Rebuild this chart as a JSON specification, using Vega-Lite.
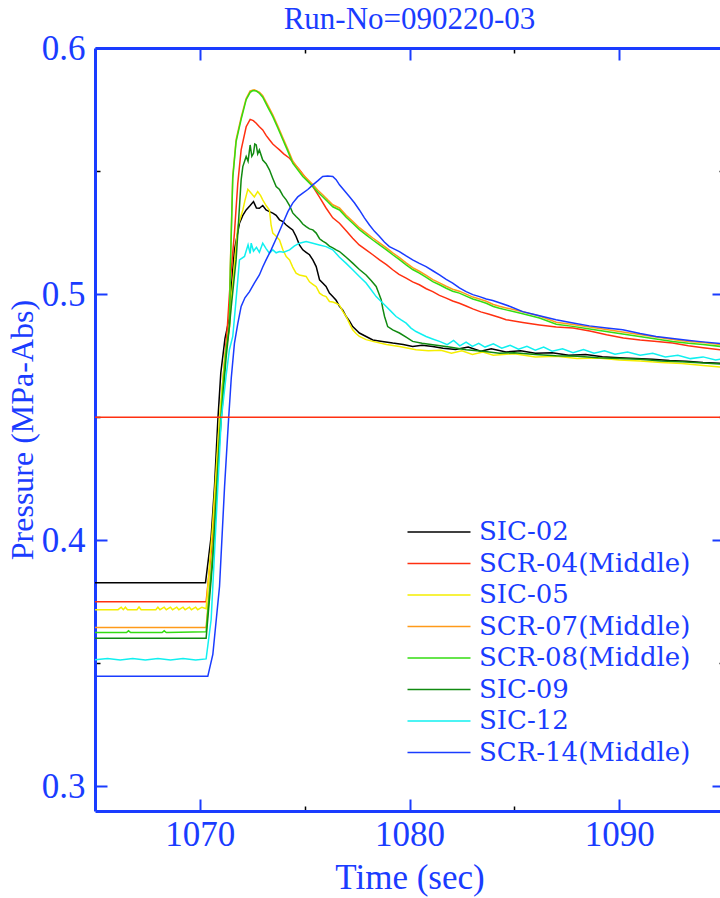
{
"$schema":"https://vega.github.io/schema/vega-lite/v6.json",
"width":629,"height":763,
"autosize":{"type":"none"},
"padding":{"left":95,"top":48,"right":0,"bottom":87},
"background":"white",
"title":{"text":"Run-No=090220-03","font":"Liberation Serif","fontSize":31,"fontWeight":"normal","color":"#1a3cff","anchor":"middle","offset":-5},
"config":{"view":{"stroke":null},"axis":{"grid":false}},
"resolve":{"axis":{"x":"independent","y":"independent"}},
"datasets":{"series":[
{"s":"SIC-02","t":1065,"p":0.3827},{"s":"SIC-02","t":1070.27,"p":0.3827},{"s":"SIC-02","t":1070.54,"p":0.4016},{"s":"SIC-02","t":1070.7,"p":0.4219},{"s":"SIC-02","t":1070.86,"p":0.449},{"s":"SIC-02","t":1071.0,"p":0.468},{"s":"SIC-02","t":1071.2,"p":0.482},{"s":"SIC-02","t":1071.4,"p":0.49},{"s":"SIC-02","t":1071.55,"p":0.508},{"s":"SIC-02","t":1071.65,"p":0.518},{"s":"SIC-02","t":1071.89,"p":0.5288},{"s":"SIC-02","t":1072.05,"p":0.532},{"s":"SIC-02","t":1072.21,"p":0.5342},{"s":"SIC-02","t":1072.4,"p":0.536},{"s":"SIC-02","t":1072.56,"p":0.5376},{"s":"SIC-02","t":1072.7,"p":0.535},{"s":"SIC-02","t":1072.84,"p":0.5349},{"s":"SIC-02","t":1073.0,"p":0.536},{"s":"SIC-02","t":1073.16,"p":0.5342},{"s":"SIC-02","t":1073.32,"p":0.5335},{"s":"SIC-02","t":1073.48,"p":0.5329},{"s":"SIC-02","t":1073.64,"p":0.532},{"s":"SIC-02","t":1073.8,"p":0.5302},{"s":"SIC-02","t":1073.96,"p":0.5295},{"s":"SIC-02","t":1074.12,"p":0.5281},{"s":"SIC-02","t":1074.28,"p":0.527},{"s":"SIC-02","t":1074.43,"p":0.5261},{"s":"SIC-02","t":1074.59,"p":0.5234},{"s":"SIC-02","t":1074.75,"p":0.52},{"s":"SIC-02","t":1074.91,"p":0.518},{"s":"SIC-02","t":1075.07,"p":0.517},{"s":"SIC-02","t":1075.23,"p":0.516},{"s":"SIC-02","t":1075.39,"p":0.5139},{"s":"SIC-02","t":1075.55,"p":0.5112},{"s":"SIC-02","t":1075.71,"p":0.5058},{"s":"SIC-02","t":1075.86,"p":0.5045},{"s":"SIC-02","t":1076.02,"p":0.5031},{"s":"SIC-02","t":1076.18,"p":0.5004},{"s":"SIC-02","t":1076.34,"p":0.499},{"s":"SIC-02","t":1076.5,"p":0.4975},{"s":"SIC-02","t":1076.66,"p":0.495},{"s":"SIC-02","t":1076.82,"p":0.4935},{"s":"SIC-02","t":1076.98,"p":0.4909},{"s":"SIC-02","t":1077.14,"p":0.489},{"s":"SIC-02","t":1077.29,"p":0.4868},{"s":"SIC-02","t":1077.45,"p":0.4855},{"s":"SIC-02","t":1077.61,"p":0.4842},{"s":"SIC-02","t":1077.93,"p":0.4828},{"s":"SIC-02","t":1078.25,"p":0.4814},{"s":"SIC-02","t":1078.7,"p":0.4808},{"s":"SIC-02","t":1079.2,"p":0.4801},{"s":"SIC-02","t":1079.7,"p":0.4795},{"s":"SIC-02","t":1080.15,"p":0.4787},{"s":"SIC-02","t":1080.6,"p":0.4792},{"s":"SIC-02","t":1081.11,"p":0.4787},{"s":"SIC-02","t":1081.6,"p":0.478},{"s":"SIC-02","t":1082.2,"p":0.4775},{"s":"SIC-02","t":1082.8,"p":0.4785},{"s":"SIC-02","t":1083.4,"p":0.4768},{"s":"SIC-02","t":1083.9,"p":0.4778},{"s":"SIC-02","t":1084.6,"p":0.4765},{"s":"SIC-02","t":1085.3,"p":0.477},{"s":"SIC-02","t":1086.0,"p":0.476},{"s":"SIC-02","t":1086.8,"p":0.4762},{"s":"SIC-02","t":1087.6,"p":0.4752},{"s":"SIC-02","t":1088.4,"p":0.4755},{"s":"SIC-02","t":1089.2,"p":0.4746},{"s":"SIC-02","t":1090.0,"p":0.4742},{"s":"SIC-02","t":1090.8,"p":0.4738},{"s":"SIC-02","t":1091.6,"p":0.4735},{"s":"SIC-02","t":1092.4,"p":0.473},{"s":"SIC-02","t":1093.2,"p":0.4727},{"s":"SIC-02","t":1094.0,"p":0.4722},{"s":"SIC-02","t":1095,"p":0.4718},

{"s":"SCR-04(Middle)","t":1065,"p":0.375},{"s":"SCR-04(Middle)","t":1070.3,"p":0.375},{"s":"SCR-04(Middle)","t":1070.6,"p":0.4},{"s":"SCR-04(Middle)","t":1070.86,"p":0.4354},{"s":"SCR-04(Middle)","t":1071.1,"p":0.465},{"s":"SCR-04(Middle)","t":1071.3,"p":0.485},{"s":"SCR-04(Middle)","t":1071.45,"p":0.505},{"s":"SCR-04(Middle)","t":1071.65,"p":0.5248},{"s":"SCR-04(Middle)","t":1071.81,"p":0.545},{"s":"SCR-04(Middle)","t":1071.97,"p":0.5586},{"s":"SCR-04(Middle)","t":1072.21,"p":0.568},{"s":"SCR-04(Middle)","t":1072.4,"p":0.571},{"s":"SCR-04(Middle)","t":1072.55,"p":0.5705},{"s":"SCR-04(Middle)","t":1072.69,"p":0.5694},{"s":"SCR-04(Middle)","t":1072.84,"p":0.568},{"s":"SCR-04(Middle)","t":1073.0,"p":0.5667},{"s":"SCR-04(Middle)","t":1073.16,"p":0.5645},{"s":"SCR-04(Middle)","t":1073.32,"p":0.5627},{"s":"SCR-04(Middle)","t":1073.48,"p":0.561},{"s":"SCR-04(Middle)","t":1073.64,"p":0.5598},{"s":"SCR-04(Middle)","t":1073.8,"p":0.5586},{"s":"SCR-04(Middle)","t":1074.0,"p":0.557},{"s":"SCR-04(Middle)","t":1074.28,"p":0.5552},{"s":"SCR-04(Middle)","t":1074.5,"p":0.553},{"s":"SCR-04(Middle)","t":1074.75,"p":0.5505},{"s":"SCR-04(Middle)","t":1075.07,"p":0.547},{"s":"SCR-04(Middle)","t":1075.39,"p":0.5437},{"s":"SCR-04(Middle)","t":1075.7,"p":0.5395},{"s":"SCR-04(Middle)","t":1076.02,"p":0.535},{"s":"SCR-04(Middle)","t":1076.34,"p":0.531},{"s":"SCR-04(Middle)","t":1076.66,"p":0.5288},{"s":"SCR-04(Middle)","t":1077.0,"p":0.5255},{"s":"SCR-04(Middle)","t":1077.29,"p":0.5227},{"s":"SCR-04(Middle)","t":1077.6,"p":0.52},{"s":"SCR-04(Middle)","t":1077.93,"p":0.518},{"s":"SCR-04(Middle)","t":1078.25,"p":0.516},{"s":"SCR-04(Middle)","t":1078.57,"p":0.5139},{"s":"SCR-04(Middle)","t":1078.9,"p":0.512},{"s":"SCR-04(Middle)","t":1079.2,"p":0.5099},{"s":"SCR-04(Middle)","t":1079.5,"p":0.508},{"s":"SCR-04(Middle)","t":1079.84,"p":0.5065},{"s":"SCR-04(Middle)","t":1080.15,"p":0.505},{"s":"SCR-04(Middle)","t":1080.47,"p":0.5038},{"s":"SCR-04(Middle)","t":1080.8,"p":0.5022},{"s":"SCR-04(Middle)","t":1081.11,"p":0.501},{"s":"SCR-04(Middle)","t":1081.43,"p":0.4995},{"s":"SCR-04(Middle)","t":1081.75,"p":0.4984},{"s":"SCR-04(Middle)","t":1082.06,"p":0.4972},{"s":"SCR-04(Middle)","t":1082.38,"p":0.4963},{"s":"SCR-04(Middle)","t":1082.7,"p":0.4952},{"s":"SCR-04(Middle)","t":1083.02,"p":0.494},{"s":"SCR-04(Middle)","t":1083.4,"p":0.4928},{"s":"SCR-04(Middle)","t":1083.8,"p":0.4918},{"s":"SCR-04(Middle)","t":1084.3,"p":0.4905},{"s":"SCR-04(Middle)","t":1084.61,"p":0.4896},{"s":"SCR-04(Middle)","t":1085.4,"p":0.4885},{"s":"SCR-04(Middle)","t":1086.2,"p":0.4875},{"s":"SCR-04(Middle)","t":1087.0,"p":0.4866},{"s":"SCR-04(Middle)","t":1087.8,"p":0.4862},{"s":"SCR-04(Middle)","t":1088.6,"p":0.485},{"s":"SCR-04(Middle)","t":1089.4,"p":0.4835},{"s":"SCR-04(Middle)","t":1090.2,"p":0.4822},{"s":"SCR-04(Middle)","t":1091.0,"p":0.4814},{"s":"SCR-04(Middle)","t":1091.8,"p":0.4808},{"s":"SCR-04(Middle)","t":1092.55,"p":0.4801},{"s":"SCR-04(Middle)","t":1093.3,"p":0.479},{"s":"SCR-04(Middle)","t":1094.0,"p":0.4782},{"s":"SCR-04(Middle)","t":1095,"p":0.4772},

{"s":"SIC-05","t":1065,"p":0.3718},{"s":"SIC-05","t":1066.1,"p":0.3718},{"s":"SIC-05","t":1066.25,"p":0.3728},{"s":"SIC-05","t":1066.35,"p":0.3718},{"s":"SIC-05","t":1066.45,"p":0.3728},{"s":"SIC-05","t":1066.55,"p":0.3718},{"s":"SIC-05","t":1067.0,"p":0.3718},{"s":"SIC-05","t":1067.1,"p":0.3729},{"s":"SIC-05","t":1067.2,"p":0.3718},{"s":"SIC-05","t":1067.9,"p":0.3718},{"s":"SIC-05","t":1068.0,"p":0.3728},{"s":"SIC-05","t":1068.1,"p":0.3718},{"s":"SIC-05","t":1068.3,"p":0.3728},{"s":"SIC-05","t":1068.4,"p":0.3718},{"s":"SIC-05","t":1068.6,"p":0.3728},{"s":"SIC-05","t":1068.7,"p":0.3718},{"s":"SIC-05","t":1068.9,"p":0.3728},{"s":"SIC-05","t":1069.0,"p":0.3718},{"s":"SIC-05","t":1069.2,"p":0.3728},{"s":"SIC-05","t":1069.3,"p":0.3718},{"s":"SIC-05","t":1069.5,"p":0.3728},{"s":"SIC-05","t":1069.6,"p":0.3718},{"s":"SIC-05","t":1069.8,"p":0.3728},{"s":"SIC-05","t":1069.9,"p":0.3718},{"s":"SIC-05","t":1070.1,"p":0.3728},{"s":"SIC-05","t":1070.3,"p":0.3722},{"s":"SIC-05","t":1070.6,"p":0.405},{"s":"SIC-05","t":1070.94,"p":0.45},{"s":"SIC-05","t":1071.2,"p":0.475},{"s":"SIC-05","t":1071.41,"p":0.4863},{"s":"SIC-05","t":1071.5,"p":0.498},{"s":"SIC-05","t":1071.65,"p":0.512},{"s":"SIC-05","t":1071.81,"p":0.5274},{"s":"SIC-05","t":1072.05,"p":0.5342},{"s":"SIC-05","t":1072.15,"p":0.538},{"s":"SIC-05","t":1072.29,"p":0.5426},{"s":"SIC-05","t":1072.45,"p":0.541},{"s":"SIC-05","t":1072.6,"p":0.5395},{"s":"SIC-05","t":1072.76,"p":0.5417},{"s":"SIC-05","t":1072.9,"p":0.54},{"s":"SIC-05","t":1073.0,"p":0.5383},{"s":"SIC-05","t":1073.16,"p":0.536},{"s":"SIC-05","t":1073.32,"p":0.5342},{"s":"SIC-05","t":1073.4,"p":0.528},{"s":"SIC-05","t":1073.48,"p":0.5248},{"s":"SIC-05","t":1073.64,"p":0.5235},{"s":"SIC-05","t":1073.8,"p":0.522},{"s":"SIC-05","t":1073.96,"p":0.518},{"s":"SIC-05","t":1074.12,"p":0.5153},{"s":"SIC-05","t":1074.28,"p":0.5139},{"s":"SIC-05","t":1074.43,"p":0.511},{"s":"SIC-05","t":1074.59,"p":0.5085},{"s":"SIC-05","t":1074.75,"p":0.5078},{"s":"SIC-05","t":1075.07,"p":0.5072},{"s":"SIC-05","t":1075.23,"p":0.505},{"s":"SIC-05","t":1075.39,"p":0.504},{"s":"SIC-05","t":1075.55,"p":0.503},{"s":"SIC-05","t":1075.71,"p":0.5004},{"s":"SIC-05","t":1075.86,"p":0.4995},{"s":"SIC-05","t":1076.02,"p":0.499},{"s":"SIC-05","t":1076.18,"p":0.497},{"s":"SIC-05","t":1076.34,"p":0.4968},{"s":"SIC-05","t":1076.5,"p":0.4963},{"s":"SIC-05","t":1076.66,"p":0.4955},{"s":"SIC-05","t":1076.82,"p":0.493},{"s":"SIC-05","t":1076.98,"p":0.4909},{"s":"SIC-05","t":1077.14,"p":0.488},{"s":"SIC-05","t":1077.29,"p":0.4855},{"s":"SIC-05","t":1077.45,"p":0.484},{"s":"SIC-05","t":1077.61,"p":0.4828},{"s":"SIC-05","t":1077.93,"p":0.4815},{"s":"SIC-05","t":1078.25,"p":0.4808},{"s":"SIC-05","t":1078.9,"p":0.4795},{"s":"SIC-05","t":1079.52,"p":0.4787},{"s":"SIC-05","t":1080.31,"p":0.4774},{"s":"SIC-05","t":1080.9,"p":0.477},{"s":"SIC-05","t":1081.5,"p":0.4772},{"s":"SIC-05","t":1082.0,"p":0.476},{"s":"SIC-05","t":1082.5,"p":0.477},{"s":"SIC-05","t":1083.0,"p":0.4755},{"s":"SIC-05","t":1083.5,"p":0.4765},{"s":"SIC-05","t":1084.0,"p":0.4752},{"s":"SIC-05","t":1085.0,"p":0.4758},{"s":"SIC-05","t":1086.0,"p":0.4745},{"s":"SIC-05","t":1087.0,"p":0.4748},{"s":"SIC-05","t":1088.0,"p":0.4738},{"s":"SIC-05","t":1089.0,"p":0.474},{"s":"SIC-05","t":1090.0,"p":0.4732},{"s":"SIC-05","t":1091.0,"p":0.4728},{"s":"SIC-05","t":1092.0,"p":0.4722},{"s":"SIC-05","t":1093.0,"p":0.4718},{"s":"SIC-05","t":1094.0,"p":0.471},{"s":"SIC-05","t":1095,"p":0.4703},

{"s":"SCR-07(Middle)","t":1065,"p":0.3646},{"s":"SCR-07(Middle)","t":1070.3,"p":0.3646},{"s":"SCR-07(Middle)","t":1070.62,"p":0.396},{"s":"SCR-07(Middle)","t":1070.94,"p":0.443},{"s":"SCR-07(Middle)","t":1071.25,"p":0.478},{"s":"SCR-07(Middle)","t":1071.41,"p":0.488},{"s":"SCR-07(Middle)","t":1071.45,"p":0.51},{"s":"SCR-07(Middle)","t":1071.57,"p":0.548},{"s":"SCR-07(Middle)","t":1071.73,"p":0.5628},{"s":"SCR-07(Middle)","t":1071.97,"p":0.5718},{"s":"SCR-07(Middle)","t":1072.21,"p":0.5795},{"s":"SCR-07(Middle)","t":1072.4,"p":0.5826},{"s":"SCR-07(Middle)","t":1072.6,"p":0.583},{"s":"SCR-07(Middle)","t":1072.85,"p":0.582},{"s":"SCR-07(Middle)","t":1073.0,"p":0.5806},{"s":"SCR-07(Middle)","t":1073.24,"p":0.5768},{"s":"SCR-07(Middle)","t":1073.48,"p":0.5728},{"s":"SCR-07(Middle)","t":1073.72,"p":0.5683},{"s":"SCR-07(Middle)","t":1073.96,"p":0.5635},{"s":"SCR-07(Middle)","t":1074.2,"p":0.5588},{"s":"SCR-07(Middle)","t":1074.43,"p":0.5541},{"s":"SCR-07(Middle)","t":1074.67,"p":0.5513},{"s":"SCR-07(Middle)","t":1074.91,"p":0.5486},{"s":"SCR-07(Middle)","t":1075.15,"p":0.5466},{"s":"SCR-07(Middle)","t":1075.39,"p":0.5445},{"s":"SCR-07(Middle)","t":1075.62,"p":0.5423},{"s":"SCR-07(Middle)","t":1075.86,"p":0.5404},{"s":"SCR-07(Middle)","t":1076.1,"p":0.5383},{"s":"SCR-07(Middle)","t":1076.34,"p":0.5363},{"s":"SCR-07(Middle)","t":1076.66,"p":0.535},{"s":"SCR-07(Middle)","t":1076.98,"p":0.532},{"s":"SCR-07(Middle)","t":1077.29,"p":0.5296},{"s":"SCR-07(Middle)","t":1077.61,"p":0.527},{"s":"SCR-07(Middle)","t":1077.93,"p":0.5249},{"s":"SCR-07(Middle)","t":1078.25,"p":0.5228},{"s":"SCR-07(Middle)","t":1078.57,"p":0.5208},{"s":"SCR-07(Middle)","t":1078.9,"p":0.5188},{"s":"SCR-07(Middle)","t":1079.2,"p":0.5168},{"s":"SCR-07(Middle)","t":1079.52,"p":0.5148},{"s":"SCR-07(Middle)","t":1079.84,"p":0.5127},{"s":"SCR-07(Middle)","t":1080.15,"p":0.5108},{"s":"SCR-07(Middle)","t":1080.47,"p":0.5093},{"s":"SCR-07(Middle)","t":1080.8,"p":0.5076},{"s":"SCR-07(Middle)","t":1081.11,"p":0.5059},{"s":"SCR-07(Middle)","t":1081.43,"p":0.5046},{"s":"SCR-07(Middle)","t":1081.75,"p":0.5032},{"s":"SCR-07(Middle)","t":1082.06,"p":0.502},{"s":"SCR-07(Middle)","t":1082.38,"p":0.5012},{"s":"SCR-07(Middle)","t":1082.7,"p":0.5},{"s":"SCR-07(Middle)","t":1083.02,"p":0.4988},{"s":"SCR-07(Middle)","t":1083.34,"p":0.498},{"s":"SCR-07(Middle)","t":1083.66,"p":0.4971},{"s":"SCR-07(Middle)","t":1084.0,"p":0.4958},{"s":"SCR-07(Middle)","t":1084.29,"p":0.4951},{"s":"SCR-07(Middle)","t":1084.61,"p":0.4944},{"s":"SCR-07(Middle)","t":1085.4,"p":0.4928},{"s":"SCR-07(Middle)","t":1086.2,"p":0.4911},{"s":"SCR-07(Middle)","t":1087.0,"p":0.4886},{"s":"SCR-07(Middle)","t":1087.79,"p":0.4877},{"s":"SCR-07(Middle)","t":1088.6,"p":0.4866},{"s":"SCR-07(Middle)","t":1089.38,"p":0.4856},{"s":"SCR-07(Middle)","t":1090.17,"p":0.4846},{"s":"SCR-07(Middle)","t":1090.97,"p":0.4836},{"s":"SCR-07(Middle)","t":1091.76,"p":0.4826},{"s":"SCR-07(Middle)","t":1092.55,"p":0.4816},{"s":"SCR-07(Middle)","t":1093.3,"p":0.4808},{"s":"SCR-07(Middle)","t":1094.0,"p":0.4803},{"s":"SCR-07(Middle)","t":1095,"p":0.4794},

{"s":"SCR-08(Middle)","t":1065,"p":0.3625},{"s":"SCR-08(Middle)","t":1066.5,"p":0.3625},{"s":"SCR-08(Middle)","t":1066.6,"p":0.3632},{"s":"SCR-08(Middle)","t":1066.7,"p":0.3625},{"s":"SCR-08(Middle)","t":1068.2,"p":0.3625},{"s":"SCR-08(Middle)","t":1068.3,"p":0.3632},{"s":"SCR-08(Middle)","t":1068.4,"p":0.3625},{"s":"SCR-08(Middle)","t":1070.3,"p":0.3628},{"s":"SCR-08(Middle)","t":1070.62,"p":0.3948},{"s":"SCR-08(Middle)","t":1070.94,"p":0.4422},{"s":"SCR-08(Middle)","t":1071.1,"p":0.462},{"s":"SCR-08(Middle)","t":1071.25,"p":0.477},{"s":"SCR-08(Middle)","t":1071.41,"p":0.4868},{"s":"SCR-08(Middle)","t":1071.45,"p":0.5087},{"s":"SCR-08(Middle)","t":1071.57,"p":0.547},{"s":"SCR-08(Middle)","t":1071.73,"p":0.562},{"s":"SCR-08(Middle)","t":1071.97,"p":0.571},{"s":"SCR-08(Middle)","t":1072.21,"p":0.579},{"s":"SCR-08(Middle)","t":1072.4,"p":0.582},{"s":"SCR-08(Middle)","t":1072.53,"p":0.5827},{"s":"SCR-08(Middle)","t":1072.7,"p":0.5825},{"s":"SCR-08(Middle)","t":1072.85,"p":0.5815},{"s":"SCR-08(Middle)","t":1073.0,"p":0.58},{"s":"SCR-08(Middle)","t":1073.24,"p":0.576},{"s":"SCR-08(Middle)","t":1073.48,"p":0.5721},{"s":"SCR-08(Middle)","t":1073.72,"p":0.5675},{"s":"SCR-08(Middle)","t":1073.96,"p":0.5627},{"s":"SCR-08(Middle)","t":1074.2,"p":0.558},{"s":"SCR-08(Middle)","t":1074.43,"p":0.5532},{"s":"SCR-08(Middle)","t":1074.67,"p":0.5505},{"s":"SCR-08(Middle)","t":1074.91,"p":0.5478},{"s":"SCR-08(Middle)","t":1075.15,"p":0.5458},{"s":"SCR-08(Middle)","t":1075.39,"p":0.5437},{"s":"SCR-08(Middle)","t":1075.62,"p":0.5415},{"s":"SCR-08(Middle)","t":1075.86,"p":0.5396},{"s":"SCR-08(Middle)","t":1076.1,"p":0.5375},{"s":"SCR-08(Middle)","t":1076.34,"p":0.5355},{"s":"SCR-08(Middle)","t":1076.66,"p":0.5342},{"s":"SCR-08(Middle)","t":1076.98,"p":0.5312},{"s":"SCR-08(Middle)","t":1077.29,"p":0.5288},{"s":"SCR-08(Middle)","t":1077.61,"p":0.5262},{"s":"SCR-08(Middle)","t":1077.93,"p":0.5241},{"s":"SCR-08(Middle)","t":1078.25,"p":0.522},{"s":"SCR-08(Middle)","t":1078.57,"p":0.52},{"s":"SCR-08(Middle)","t":1078.9,"p":0.518},{"s":"SCR-08(Middle)","t":1079.2,"p":0.516},{"s":"SCR-08(Middle)","t":1079.52,"p":0.514},{"s":"SCR-08(Middle)","t":1079.84,"p":0.5119},{"s":"SCR-08(Middle)","t":1080.15,"p":0.51},{"s":"SCR-08(Middle)","t":1080.47,"p":0.5085},{"s":"SCR-08(Middle)","t":1080.8,"p":0.5068},{"s":"SCR-08(Middle)","t":1081.11,"p":0.5051},{"s":"SCR-08(Middle)","t":1081.43,"p":0.5038},{"s":"SCR-08(Middle)","t":1081.75,"p":0.5024},{"s":"SCR-08(Middle)","t":1082.06,"p":0.5012},{"s":"SCR-08(Middle)","t":1082.38,"p":0.5004},{"s":"SCR-08(Middle)","t":1082.7,"p":0.4992},{"s":"SCR-08(Middle)","t":1083.02,"p":0.498},{"s":"SCR-08(Middle)","t":1083.34,"p":0.4972},{"s":"SCR-08(Middle)","t":1083.66,"p":0.4963},{"s":"SCR-08(Middle)","t":1084.0,"p":0.495},{"s":"SCR-08(Middle)","t":1084.29,"p":0.4943},{"s":"SCR-08(Middle)","t":1084.61,"p":0.4936},{"s":"SCR-08(Middle)","t":1085.4,"p":0.492},{"s":"SCR-08(Middle)","t":1086.2,"p":0.4903},{"s":"SCR-08(Middle)","t":1087.0,"p":0.4878},{"s":"SCR-08(Middle)","t":1087.79,"p":0.4869},{"s":"SCR-08(Middle)","t":1088.6,"p":0.4858},{"s":"SCR-08(Middle)","t":1089.38,"p":0.4848},{"s":"SCR-08(Middle)","t":1090.17,"p":0.4838},{"s":"SCR-08(Middle)","t":1090.97,"p":0.4828},{"s":"SCR-08(Middle)","t":1091.76,"p":0.4818},{"s":"SCR-08(Middle)","t":1092.55,"p":0.4808},{"s":"SCR-08(Middle)","t":1093.3,"p":0.48},{"s":"SCR-08(Middle)","t":1094.0,"p":0.4795},{"s":"SCR-08(Middle)","t":1095,"p":0.4786},

{"s":"SIC-09","t":1065,"p":0.3602},{"s":"SIC-09","t":1070.3,"p":0.3602},{"s":"SIC-09","t":1070.62,"p":0.392},{"s":"SIC-09","t":1070.94,"p":0.44},{"s":"SIC-09","t":1071.25,"p":0.474},{"s":"SIC-09","t":1071.41,"p":0.4868},{"s":"SIC-09","t":1071.5,"p":0.495},{"s":"SIC-09","t":1071.62,"p":0.505},{"s":"SIC-09","t":1071.73,"p":0.5139},{"s":"SIC-09","t":1071.85,"p":0.53},{"s":"SIC-09","t":1071.97,"p":0.5464},{"s":"SIC-09","t":1072.05,"p":0.5518},{"s":"SIC-09","t":1072.21,"p":0.5559},{"s":"SIC-09","t":1072.3,"p":0.554},{"s":"SIC-09","t":1072.4,"p":0.5606},{"s":"SIC-09","t":1072.48,"p":0.556},{"s":"SIC-09","t":1072.56,"p":0.5572},{"s":"SIC-09","t":1072.62,"p":0.561},{"s":"SIC-09","t":1072.69,"p":0.5606},{"s":"SIC-09","t":1072.76,"p":0.557},{"s":"SIC-09","t":1072.84,"p":0.5586},{"s":"SIC-09","t":1073.0,"p":0.5545},{"s":"SIC-09","t":1073.16,"p":0.553},{"s":"SIC-09","t":1073.32,"p":0.5505},{"s":"SIC-09","t":1073.48,"p":0.547},{"s":"SIC-09","t":1073.64,"p":0.5437},{"s":"SIC-09","t":1073.8,"p":0.5425},{"s":"SIC-09","t":1073.96,"p":0.54},{"s":"SIC-09","t":1074.12,"p":0.5383},{"s":"SIC-09","t":1074.28,"p":0.536},{"s":"SIC-09","t":1074.43,"p":0.533},{"s":"SIC-09","t":1074.59,"p":0.5315},{"s":"SIC-09","t":1074.75,"p":0.5302},{"s":"SIC-09","t":1074.91,"p":0.5285},{"s":"SIC-09","t":1075.07,"p":0.5274},{"s":"SIC-09","t":1075.23,"p":0.5265},{"s":"SIC-09","t":1075.39,"p":0.5261},{"s":"SIC-09","t":1075.55,"p":0.5248},{"s":"SIC-09","t":1075.71,"p":0.5225},{"s":"SIC-09","t":1075.86,"p":0.5215},{"s":"SIC-09","t":1076.02,"p":0.5207},{"s":"SIC-09","t":1076.18,"p":0.5195},{"s":"SIC-09","t":1076.34,"p":0.5188},{"s":"SIC-09","t":1076.5,"p":0.518},{"s":"SIC-09","t":1076.66,"p":0.5173},{"s":"SIC-09","t":1076.98,"p":0.515},{"s":"SIC-09","t":1077.29,"p":0.5126},{"s":"SIC-09","t":1077.61,"p":0.51},{"s":"SIC-09","t":1077.93,"p":0.5078},{"s":"SIC-09","t":1078.17,"p":0.5055},{"s":"SIC-09","t":1078.41,"p":0.5031},{"s":"SIC-09","t":1078.53,"p":0.5005},{"s":"SIC-09","t":1078.65,"p":0.4977},{"s":"SIC-09","t":1078.73,"p":0.494},{"s":"SIC-09","t":1078.81,"p":0.4909},{"s":"SIC-09","t":1078.96,"p":0.4868},{"s":"SIC-09","t":1079.2,"p":0.4855},{"s":"SIC-09","t":1079.52,"p":0.4842},{"s":"SIC-09","t":1079.84,"p":0.4825},{"s":"SIC-09","t":1080.15,"p":0.4808},{"s":"SIC-09","t":1080.6,"p":0.48},{"s":"SIC-09","t":1081.11,"p":0.4794},{"s":"SIC-09","t":1081.9,"p":0.4785},{"s":"SIC-09","t":1082.7,"p":0.4774},{"s":"SIC-09","t":1083.5,"p":0.4768},{"s":"SIC-09","t":1084.29,"p":0.476},{"s":"SIC-09","t":1085.0,"p":0.4762},{"s":"SIC-09","t":1086.0,"p":0.4755},{"s":"SIC-09","t":1087.0,"p":0.475},{"s":"SIC-09","t":1088.0,"p":0.4748},{"s":"SIC-09","t":1089.0,"p":0.4742},{"s":"SIC-09","t":1090.0,"p":0.4738},{"s":"SIC-09","t":1091.0,"p":0.4735},{"s":"SIC-09","t":1092.0,"p":0.4728},{"s":"SIC-09","t":1093.0,"p":0.4725},{"s":"SIC-09","t":1094.0,"p":0.472},{"s":"SIC-09","t":1095,"p":0.4715},

{"s":"SIC-12","t":1065,"p":0.3514},{"s":"SIC-12","t":1065.6,"p":0.352},{"s":"SIC-12","t":1066.2,"p":0.3514},{"s":"SIC-12","t":1066.8,"p":0.352},{"s":"SIC-12","t":1067.4,"p":0.3514},{"s":"SIC-12","t":1068.0,"p":0.352},{"s":"SIC-12","t":1068.6,"p":0.3514},{"s":"SIC-12","t":1069.2,"p":0.352},{"s":"SIC-12","t":1069.8,"p":0.3514},{"s":"SIC-12","t":1070.3,"p":0.3518},{"s":"SIC-12","t":1070.54,"p":0.3678},{"s":"SIC-12","t":1070.78,"p":0.4084},{"s":"SIC-12","t":1071.02,"p":0.449},{"s":"SIC-12","t":1071.25,"p":0.4666},{"s":"SIC-12","t":1071.41,"p":0.4774},{"s":"SIC-12","t":1071.57,"p":0.4828},{"s":"SIC-12","t":1071.7,"p":0.495},{"s":"SIC-12","t":1071.81,"p":0.5058},{"s":"SIC-12","t":1071.89,"p":0.5139},{"s":"SIC-12","t":1072.13,"p":0.5153},{"s":"SIC-12","t":1072.3,"p":0.52},{"s":"SIC-12","t":1072.4,"p":0.5165},{"s":"SIC-12","t":1072.45,"p":0.5207},{"s":"SIC-12","t":1072.56,"p":0.5175},{"s":"SIC-12","t":1072.7,"p":0.519},{"s":"SIC-12","t":1072.84,"p":0.517},{"s":"SIC-12","t":1073.0,"p":0.5207},{"s":"SIC-12","t":1073.16,"p":0.5185},{"s":"SIC-12","t":1073.32,"p":0.5166},{"s":"SIC-12","t":1073.48,"p":0.518},{"s":"SIC-12","t":1073.64,"p":0.5168},{"s":"SIC-12","t":1073.8,"p":0.5173},{"s":"SIC-12","t":1074.0,"p":0.517},{"s":"SIC-12","t":1074.28,"p":0.518},{"s":"SIC-12","t":1074.5,"p":0.5195},{"s":"SIC-12","t":1074.75,"p":0.5207},{"s":"SIC-12","t":1075.07,"p":0.5214},{"s":"SIC-12","t":1075.39,"p":0.5207},{"s":"SIC-12","t":1075.7,"p":0.52},{"s":"SIC-12","t":1076.02,"p":0.5193},{"s":"SIC-12","t":1076.34,"p":0.518},{"s":"SIC-12","t":1076.66,"p":0.515},{"s":"SIC-12","t":1076.98,"p":0.5125},{"s":"SIC-12","t":1077.29,"p":0.5099},{"s":"SIC-12","t":1077.61,"p":0.5072},{"s":"SIC-12","t":1077.93,"p":0.5045},{"s":"SIC-12","t":1078.17,"p":0.5018},{"s":"SIC-12","t":1078.41,"p":0.499},{"s":"SIC-12","t":1078.65,"p":0.497},{"s":"SIC-12","t":1078.89,"p":0.495},{"s":"SIC-12","t":1079.12,"p":0.493},{"s":"SIC-12","t":1079.36,"p":0.4909},{"s":"SIC-12","t":1079.6,"p":0.4895},{"s":"SIC-12","t":1079.84,"p":0.4882},{"s":"SIC-12","t":1080.07,"p":0.4862},{"s":"SIC-12","t":1080.31,"p":0.4848},{"s":"SIC-12","t":1080.55,"p":0.4838},{"s":"SIC-12","t":1080.79,"p":0.4828},{"s":"SIC-12","t":1081.1,"p":0.4818},{"s":"SIC-12","t":1081.43,"p":0.4808},{"s":"SIC-12","t":1081.8,"p":0.4795},{"s":"SIC-12","t":1082.1,"p":0.4812},{"s":"SIC-12","t":1082.4,"p":0.479},{"s":"SIC-12","t":1082.7,"p":0.4805},{"s":"SIC-12","t":1083.0,"p":0.4788},{"s":"SIC-12","t":1083.3,"p":0.48},{"s":"SIC-12","t":1083.6,"p":0.4785},{"s":"SIC-12","t":1084.0,"p":0.4798},{"s":"SIC-12","t":1084.4,"p":0.478},{"s":"SIC-12","t":1084.8,"p":0.4792},{"s":"SIC-12","t":1085.2,"p":0.4776},{"s":"SIC-12","t":1085.6,"p":0.4788},{"s":"SIC-12","t":1086.0,"p":0.4772},{"s":"SIC-12","t":1086.4,"p":0.4785},{"s":"SIC-12","t":1086.8,"p":0.4768},{"s":"SIC-12","t":1087.3,"p":0.4778},{"s":"SIC-12","t":1087.8,"p":0.4762},{"s":"SIC-12","t":1088.3,"p":0.4775},{"s":"SIC-12","t":1088.8,"p":0.476},{"s":"SIC-12","t":1089.3,"p":0.477},{"s":"SIC-12","t":1089.8,"p":0.4756},{"s":"SIC-12","t":1090.4,"p":0.4765},{"s":"SIC-12","t":1091.0,"p":0.4752},{"s":"SIC-12","t":1091.6,"p":0.476},{"s":"SIC-12","t":1092.2,"p":0.4745},{"s":"SIC-12","t":1092.8,"p":0.4752},{"s":"SIC-12","t":1093.4,"p":0.4738},{"s":"SIC-12","t":1094.0,"p":0.4745},{"s":"SIC-12","t":1094.6,"p":0.4732},{"s":"SIC-12","t":1095,"p":0.4738},

{"s":"SCR-14(Middle)","t":1065,"p":0.3447},{"s":"SCR-14(Middle)","t":1070.38,"p":0.3447},{"s":"SCR-14(Middle)","t":1070.62,"p":0.3536},{"s":"SCR-14(Middle)","t":1070.94,"p":0.3813},{"s":"SCR-14(Middle)","t":1071.18,"p":0.4219},{"s":"SCR-14(Middle)","t":1071.37,"p":0.449},{"s":"SCR-14(Middle)","t":1071.5,"p":0.466},{"s":"SCR-14(Middle)","t":1071.65,"p":0.48},{"s":"SCR-14(Middle)","t":1071.81,"p":0.488},{"s":"SCR-14(Middle)","t":1071.97,"p":0.495},{"s":"SCR-14(Middle)","t":1072.15,"p":0.4985},{"s":"SCR-14(Middle)","t":1072.37,"p":0.501},{"s":"SCR-14(Middle)","t":1072.6,"p":0.5045},{"s":"SCR-14(Middle)","t":1072.84,"p":0.5078},{"s":"SCR-14(Middle)","t":1073.0,"p":0.511},{"s":"SCR-14(Middle)","t":1073.16,"p":0.5139},{"s":"SCR-14(Middle)","t":1073.4,"p":0.518},{"s":"SCR-14(Middle)","t":1073.64,"p":0.5225},{"s":"SCR-14(Middle)","t":1073.96,"p":0.5288},{"s":"SCR-14(Middle)","t":1074.2,"p":0.5335},{"s":"SCR-14(Middle)","t":1074.43,"p":0.537},{"s":"SCR-14(Middle)","t":1074.67,"p":0.5395},{"s":"SCR-14(Middle)","t":1074.91,"p":0.541},{"s":"SCR-14(Middle)","t":1075.15,"p":0.5425},{"s":"SCR-14(Middle)","t":1075.39,"p":0.5444},{"s":"SCR-14(Middle)","t":1075.62,"p":0.546},{"s":"SCR-14(Middle)","t":1075.86,"p":0.5478},{"s":"SCR-14(Middle)","t":1076.1,"p":0.548},{"s":"SCR-14(Middle)","t":1076.34,"p":0.5478},{"s":"SCR-14(Middle)","t":1076.5,"p":0.5465},{"s":"SCR-14(Middle)","t":1076.66,"p":0.5444},{"s":"SCR-14(Middle)","t":1076.9,"p":0.542},{"s":"SCR-14(Middle)","t":1077.14,"p":0.5396},{"s":"SCR-14(Middle)","t":1077.38,"p":0.537},{"s":"SCR-14(Middle)","t":1077.61,"p":0.5342},{"s":"SCR-14(Middle)","t":1077.85,"p":0.531},{"s":"SCR-14(Middle)","t":1078.09,"p":0.5281},{"s":"SCR-14(Middle)","t":1078.33,"p":0.5255},{"s":"SCR-14(Middle)","t":1078.57,"p":0.5234},{"s":"SCR-14(Middle)","t":1078.8,"p":0.5212},{"s":"SCR-14(Middle)","t":1079.04,"p":0.5193},{"s":"SCR-14(Middle)","t":1079.28,"p":0.5183},{"s":"SCR-14(Middle)","t":1079.52,"p":0.5173},{"s":"SCR-14(Middle)","t":1079.84,"p":0.5155},{"s":"SCR-14(Middle)","t":1080.15,"p":0.5139},{"s":"SCR-14(Middle)","t":1080.47,"p":0.5125},{"s":"SCR-14(Middle)","t":1080.79,"p":0.5112},{"s":"SCR-14(Middle)","t":1081.11,"p":0.5095},{"s":"SCR-14(Middle)","t":1081.43,"p":0.5078},{"s":"SCR-14(Middle)","t":1081.75,"p":0.506},{"s":"SCR-14(Middle)","t":1082.06,"p":0.5045},{"s":"SCR-14(Middle)","t":1082.38,"p":0.5025},{"s":"SCR-14(Middle)","t":1082.7,"p":0.501},{"s":"SCR-14(Middle)","t":1083.02,"p":0.4998},{"s":"SCR-14(Middle)","t":1083.34,"p":0.499},{"s":"SCR-14(Middle)","t":1083.66,"p":0.498},{"s":"SCR-14(Middle)","t":1083.97,"p":0.4974},{"s":"SCR-14(Middle)","t":1084.29,"p":0.4965},{"s":"SCR-14(Middle)","t":1084.8,"p":0.495},{"s":"SCR-14(Middle)","t":1085.4,"p":0.4929},{"s":"SCR-14(Middle)","t":1086.2,"p":0.4912},{"s":"SCR-14(Middle)","t":1086.99,"p":0.4896},{"s":"SCR-14(Middle)","t":1087.8,"p":0.4883},{"s":"SCR-14(Middle)","t":1088.58,"p":0.4871},{"s":"SCR-14(Middle)","t":1089.4,"p":0.4862},{"s":"SCR-14(Middle)","t":1090.17,"p":0.4855},{"s":"SCR-14(Middle)","t":1091.0,"p":0.484},{"s":"SCR-14(Middle)","t":1091.76,"p":0.4828},{"s":"SCR-14(Middle)","t":1092.55,"p":0.482},{"s":"SCR-14(Middle)","t":1093.35,"p":0.4812},{"s":"SCR-14(Middle)","t":1094.0,"p":0.4806},{"s":"SCR-14(Middle)","t":1095,"p":0.4798}
]},
"layer":[
{"data":{"name":"series"},
 "mark":{"type":"line","strokeWidth":1.5,"clip":true},
 "encoding":{
  "x":{"field":"t","type":"quantitative","scale":{"domain":[1065,1095],"nice":false,"zero":false},
   "axis":{"orient":"bottom","values":[1070,1075,1080,1085,1090],"format":"d","labelExpr":"datum.value % 10 === 0 ? datum.label : ''",
    "domainColor":"#1a3cff","domainWidth":3,
    "tickColor":{"condition":{"test":"datum.value % 10 !== 0","value":"#000000"},"value":"#1a3cff"},
    "tickSize":{"condition":{"test":"datum.value % 10 !== 0","value":-5},"value":-12},
    "tickWidth":{"condition":{"test":"datum.value % 10 !== 0","value":1.5},"value":2},
    "labelFont":"Liberation Serif","labelFontSize":35,"labelColor":"#1a3cff","labelPadding":18,"labelFlush":false,"labelOverlap":false,
    "title":"Time (sec)","titleFont":"Liberation Serif","titleFontSize":35,"titleFontWeight":"normal","titleColor":"#1a3cff","titlePadding":1}},
  "y":{"field":"p","type":"quantitative","scale":{"domain":[0.29,0.6],"nice":false,"zero":false},
   "axis":{"orient":"left","values":[0.3,0.35,0.4,0.45,0.5,0.55,0.6],"format":".1f","labelExpr":"abs(datum.value*10 - round(datum.value*10)) < 0.001 ? datum.label : ''",
    "domainColor":"#1a3cff","domainWidth":3,
    "tickColor":{"condition":{"test":"abs(datum.value*10 - round(datum.value*10)) > 0.001","value":"#000000"},"value":"#1a3cff"},
    "tickSize":{"condition":{"test":"abs(datum.value*10 - round(datum.value*10)) > 0.001","value":-5},"value":-12},
    "tickWidth":{"condition":{"test":"abs(datum.value*10 - round(datum.value*10)) > 0.001","value":1.5},"value":2},
    "labelFont":"Liberation Serif","labelFontSize":35,"labelColor":"#1a3cff","labelPadding":22,"labelFlush":false,"labelOverlap":false,
    "title":"Pressure (MPa-Abs)","titleFont":"Liberation Serif","titleFontSize":32,"titleFontWeight":"normal","titleColor":"#1a3cff","titlePadding":2}},
  "color":{"field":"s","type":"nominal",
   "scale":{"domain":["SIC-02","SCR-04(Middle)","SIC-05","SCR-07(Middle)","SCR-08(Middle)","SIC-09","SIC-12","SCR-14(Middle)"],
            "range":["#000000","#ff3010","#f4ee00","#ff9a1a","#33dd11","#118a11","#10f0f0","#1a3cff"]},
   "legend":{"orient":"none","legendX":331,"legendY":471,"padding":0,"title":null,"symbolType":"M-3,0H3","symbolSize":441,"symbolStrokeWidth":1.5,
     "labelFont":"DejaVu Serif","labelFontSize":26,"labelColor":"#1a3cff","labelOffset":27,"rowPadding":5.5,"labelLimit":400}}
 }},
{"data":{"values":[{"p":0.45,"t0":1065,"t1":1095}]},
 "mark":{"type":"rule","color":"#ff3010","strokeWidth":1.5},
 "encoding":{
  "x":{"field":"t0","type":"quantitative",
   "axis":{"orient":"top","values":[1070,1075,1080,1085,1090],"labels":false,"title":null,
    "domainColor":"#1a3cff","domainWidth":3,
    "tickColor":{"condition":{"test":"datum.value % 10 !== 0","value":"#000000"},"value":"#1a3cff"},
    "tickSize":{"condition":{"test":"datum.value % 10 !== 0","value":-5},"value":-12},
    "tickWidth":{"condition":{"test":"datum.value % 10 !== 0","value":1.5},"value":2}}},
  "x2":{"field":"t1"},
  "y":{"field":"p","type":"quantitative",
   "axis":{"orient":"right","values":[0.3,0.35,0.4,0.45,0.5,0.55,0.6],"labels":false,"title":null,
    "domainColor":"#1a3cff","domainWidth":3,
    "tickColor":{"condition":{"test":"abs(datum.value*10 - round(datum.value*10)) > 0.001","value":"#000000"},"value":"#1a3cff"},
    "tickSize":{"condition":{"test":"abs(datum.value*10 - round(datum.value*10)) > 0.001","value":-5},"value":-12},
    "tickWidth":{"condition":{"test":"abs(datum.value*10 - round(datum.value*10)) > 0.001","value":1.5},"value":2}}}
 }}
]
}
